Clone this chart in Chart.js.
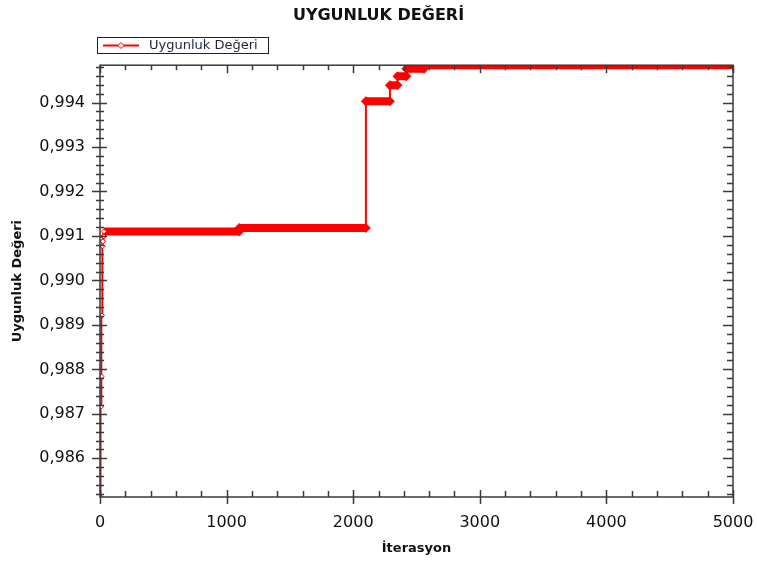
<!DOCTYPE html>
<html>
<head>
<meta charset="utf-8">
<script src="https://cdn.jsdelivr.net/npm/chart.js@4.4.1/dist/chart.umd.min.js"></script>
<style>body{margin:0;background:#fff}</style>
</head>
<body>
<canvas id="canvas" width="757" height="562"></canvas>
<script>
// iteration where each fitness level starts, and that level
const iterations = [0, 4, 8, 12, 16, 20, 24, 30, 1100, 2100, 2290, 2350, 2420, 2560, 5000];
const fitness = [0.98513, 0.98716, 0.98784, 0.98921, 0.99077, 0.99088, 0.99099, 0.99110, 0.99118, 0.99403, 0.99439, 0.99459, 0.99476, 0.99484, 0.99484];
const xTicks = [0, 1000, 2000, 3000, 4000, 5000];
const yTicks = [0.986, 0.987, 0.988, 0.989, 0.990, 0.991, 0.992, 0.993, 0.994];
const seriesLabel = 'Uygunluk Değeri';

// stair points: hold each level until the next iteration
let points = [];
for (let i = 0; i < iterations.length - 1; i++) {
    points.push({ x: iterations[i], y: fitness[i] });
    points.push({ x: iterations[i + 1], y: fitness[i] });
}

const FONT = 'DejaVu Sans';
const INK = '#3a3a3a';

// frame with major and minor ticks on all four sides
const framePlugin = {
    id: 'frame',
    afterDatasetsDraw(chart) {
        let ctx = chart.ctx;
        let a = chart.chartArea;
        let xs = chart.scales.x, ys = chart.scales.y;
        ctx.save();
        ctx.strokeStyle = INK;
        ctx.lineWidth = 1.5;
        ctx.strokeRect(a.left, a.top, a.right - a.left, a.bottom - a.top);
        ctx.beginPath();
        for (let v = 0; v <= 5000; v += 200) {
            let px = Math.round(xs.getPixelForValue(v)) + 0.5;
            let major = v % 1000 === 0;
            ctx.moveTo(px, a.bottom - (major ? 7 : 6));
            ctx.lineTo(px, a.bottom + (major ? 7 : 0));
            ctx.moveTo(px, a.top);
            ctx.lineTo(px, a.top + (major ? 8 : 5));
        }
        for (let k = 0; k <= 50; k++) {
            let v = 0.9852 + k * 0.0002;
            if (v > ys.max) break;
            let py = Math.round(ys.getPixelForValue(v)) + 0.5;
            let major = k % 5 === 4;
            ctx.moveTo(a.left - (major ? 8 : 4), py);
            ctx.lineTo(a.left + (major ? 7 : 4), py);
            ctx.moveTo(a.right, py);
            ctx.lineTo(a.right - (major ? 10 : 6), py);
        }
        ctx.stroke();
        ctx.restore();
    }
};

// boxed legend at top left
const legendPlugin = {
    id: 'boxLegend',
    afterDraw(chart) {
        let ctx = chart.ctx;
        ctx.save();
        ctx.strokeStyle = '#222';
        ctx.lineWidth = 1;
        ctx.strokeRect(97.5, 37.5, 171, 16);
        ctx.strokeStyle = '#ff0000';
        ctx.lineWidth = 2;
        ctx.beginPath();
        ctx.moveTo(103, 45.5);
        ctx.lineTo(139, 45.5);
        ctx.stroke();
        ctx.beginPath();
        ctx.moveTo(121, 42.5);
        ctx.lineTo(124, 45.5);
        ctx.lineTo(121, 48.5);
        ctx.lineTo(118, 45.5);
        ctx.closePath();
        ctx.fillStyle = '#fff';
        ctx.fill();
        ctx.lineWidth = 1;
        ctx.stroke();
        ctx.fillStyle = '#1c2440';
        ctx.font = '13px "' + FONT + '"';
        ctx.textBaseline = 'middle';
        ctx.fillText(chart.data.datasets[0].label, 149, 46);
        ctx.restore();
    }
};

let ctx = document.getElementById('canvas').getContext('2d');

let myChart = new Chart(ctx, {
    type: 'line',
    data: {
        datasets: [{
            label: seriesLabel,
            data: points,
            borderColor: '#ff0000',
            backgroundColor: '#ff0000',
            borderWidth: 2,
            clip: 0,
            pointStyle: 'rectRot',
            pointRadius: c => (c.raw && c.raw.x <= 30 ? 2.5 : 4.5),
            pointBackgroundColor: c => (c.raw && c.raw.x <= 30 ? '#fff' : '#ff0000'),
            pointBorderColor: '#ff0000',
            pointBorderWidth: 1,
            segment: {
                borderWidth: s => (s.p0.parsed.y === s.p1.parsed.y && s.p1.parsed.x - s.p0.parsed.x > 50 ? 8 : 2)
            }
        }]
    },
    options: {
        responsive: false,
        animation: false,
        events: [],
        layout: { padding: { right: 0, bottom: 0 } },
        plugins: {
            legend: { display: false },
            tooltip: { enabled: false },
            title: {
                display: true,
                text: 'UYGUNLUK DEĞERİ',
                color: '#111',
                font: { family: FONT, size: 16, weight: 'bold' },
                padding: { top: 6, bottom: 40 }
            }
        },
        scales: {
            x: {
                type: 'linear',
                min: 0,
                max: 5000,
                afterBuildTicks: s => { s.ticks = xTicks.map(v => ({ value: v })); },
                afterFit: s => { s.height = 65; s.paddingRight = 24; },
                grid: { display: false, drawTicks: false },
                border: { display: false },
                ticks: {
                    padding: 16,
                    color: '#111',
                    font: { family: FONT, size: 16 },
                    maxRotation: 0,
                    callback: v => String(v)
                },
                title: {
                    display: true,
                    text: 'İterasyon',
                    color: '#111',
                    font: { family: FONT, size: 13, weight: 'bold' },
                    padding: { top: 8, bottom: 6 }
                }
            },
            y: {
                min: 0.98513,
                max: 0.99484,
                afterBuildTicks: s => { s.ticks = yTicks.map(v => ({ value: v })); },
                afterFit: s => { s.width = 100; },
                grid: { display: false, drawTicks: false },
                border: { display: false },
                ticks: {
                    padding: 15,
                    color: '#111',
                    font: { family: FONT, size: 16 },
                    callback: v => Number(v).toFixed(3).replace('.', ',')
                },
                title: {
                    display: true,
                    text: 'Uygunluk Değeri',
                    color: '#111',
                    font: { family: FONT, size: 13, weight: 'bold' },
                    padding: { top: 10, bottom: 0 }
                }
            }
        }
    },
    plugins: [framePlugin, legendPlugin]
});
</script>
</body>
</html>
